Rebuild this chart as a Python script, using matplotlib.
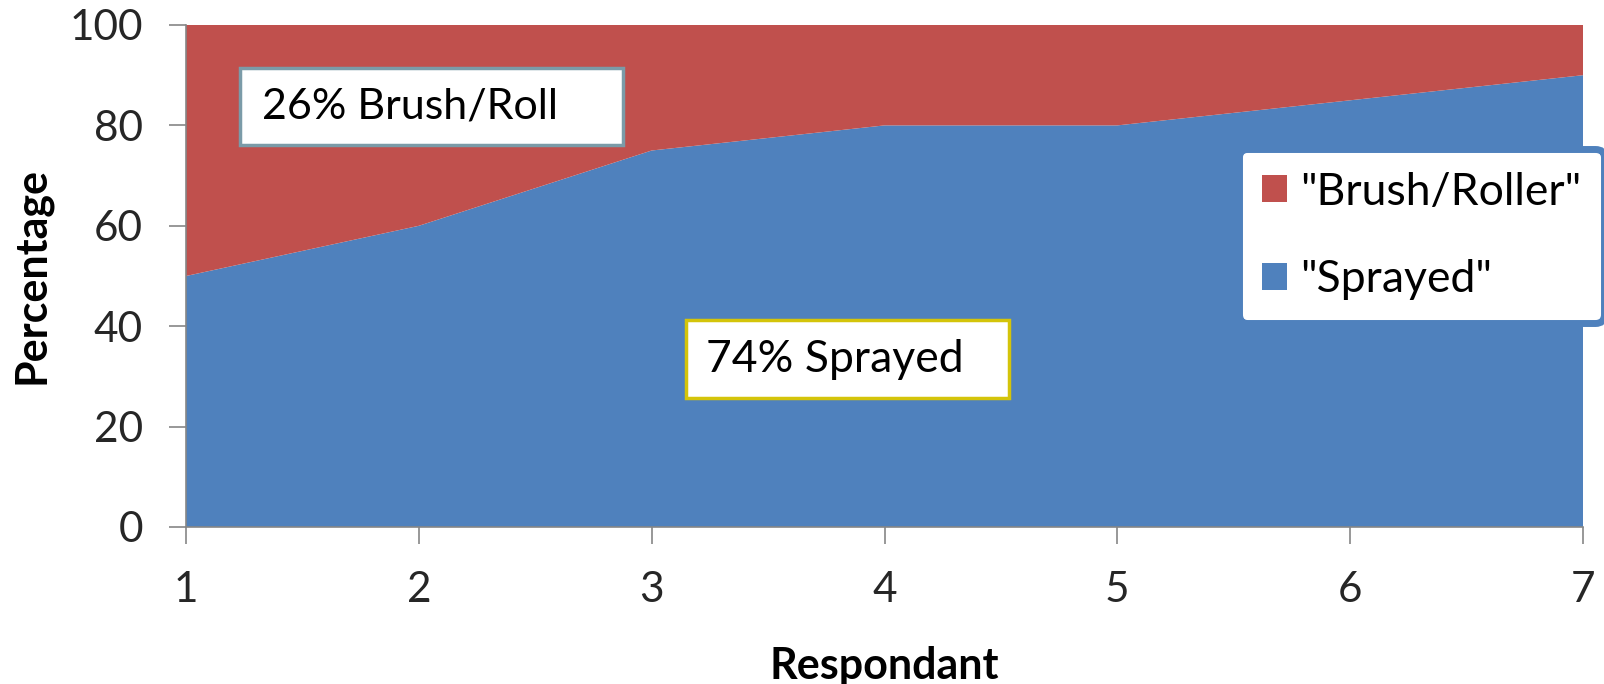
import matplotlib
matplotlib.use("Agg")
import matplotlib.pyplot as plt
from matplotlib.patches import Rectangle

respondents = [1, 2, 3, 4, 5, 6, 7]
sprayed = [50, 60, 75, 80, 80, 85, 90]
brush_roller = [50, 40, 25, 20, 20, 15, 10]
series_names = ['"Brush/Roller"', '"Sprayed"']

blue = "#4f81bd"
red = "#c0504d"
grey = "#868686"

plt.rcParams["font.family"] = ["Lato", "DejaVu Sans"]

W, H = 1604, 684
fig = plt.figure(figsize=(W / 100, H / 100), dpi=100)
ax = fig.add_axes([186 / W, 1 - 527 / H, (1583 - 186) / W, (527 - 25) / H])

ax.stackplot(respondents, sprayed, brush_roller, colors=[blue, red],
             labels=[series_names[1], series_names[0]], linewidth=0)

ax.set_xlim(1, 7)
ax.set_ylim(0, 100)
ax.set_xticks(respondents)
ax.set_yticks(range(0, 101, 20))
for side in ["top", "right"]:
    ax.spines[side].set_visible(False)
for side in ["left", "bottom"]:
    ax.spines[side].set_color(grey)
    ax.spines[side].set_linewidth(1.2)
ax.tick_params(axis="both", colors=grey, width=1.2, length=12,
               labelsize=30.5, labelcolor="#262626")
ax.tick_params(axis="y", pad=19)
ax.tick_params(axis="x", pad=20)

ax.set_xlabel("Respondant", fontsize=31, fontweight="bold", labelpad=26)
ax.set_ylabel("Percentage", fontsize=31, fontweight="bold", labelpad=13)

# callout boxes
ax.add_patch(Rectangle((1.23, 76.1), 1.646, 15.3, facecolor="white",
                       edgecolor="#7b9ba8", linewidth=2.5, zorder=3))
ax.text(1.326, 83.8, "26% Brush/Roll", fontsize=31, va="center", ha="left",
        zorder=4)
ax.add_patch(Rectangle((3.147, 25.7), 1.387, 15.5, facecolor="white",
                       edgecolor="#d4c40a", linewidth=2.5, zorder=3))
ax.text(3.235, 33.4, "74% Sprayed", fontsize=32, va="center", ha="left",
        zorder=4)

handles, labels = ax.get_legend_handles_labels()
leg = fig.legend(handles[::-1], labels[::-1], loc="upper left",
                 bbox_to_anchor=(1238.5 / W, 1 - 148.5 / H), fontsize=32,
                 frameon=True, fancybox=True, handlelength=0.56,
                 handleheight=0.56, handletextpad=0.3, labelspacing=1.04,
                 borderpad=0.52, borderaxespad=0)
frame = leg.get_frame()
frame.set_facecolor("white")
frame.set_edgecolor(blue)
frame.set_linewidth(5)
frame.set_alpha(1)

fig.savefig("out.png", dpi=100)
